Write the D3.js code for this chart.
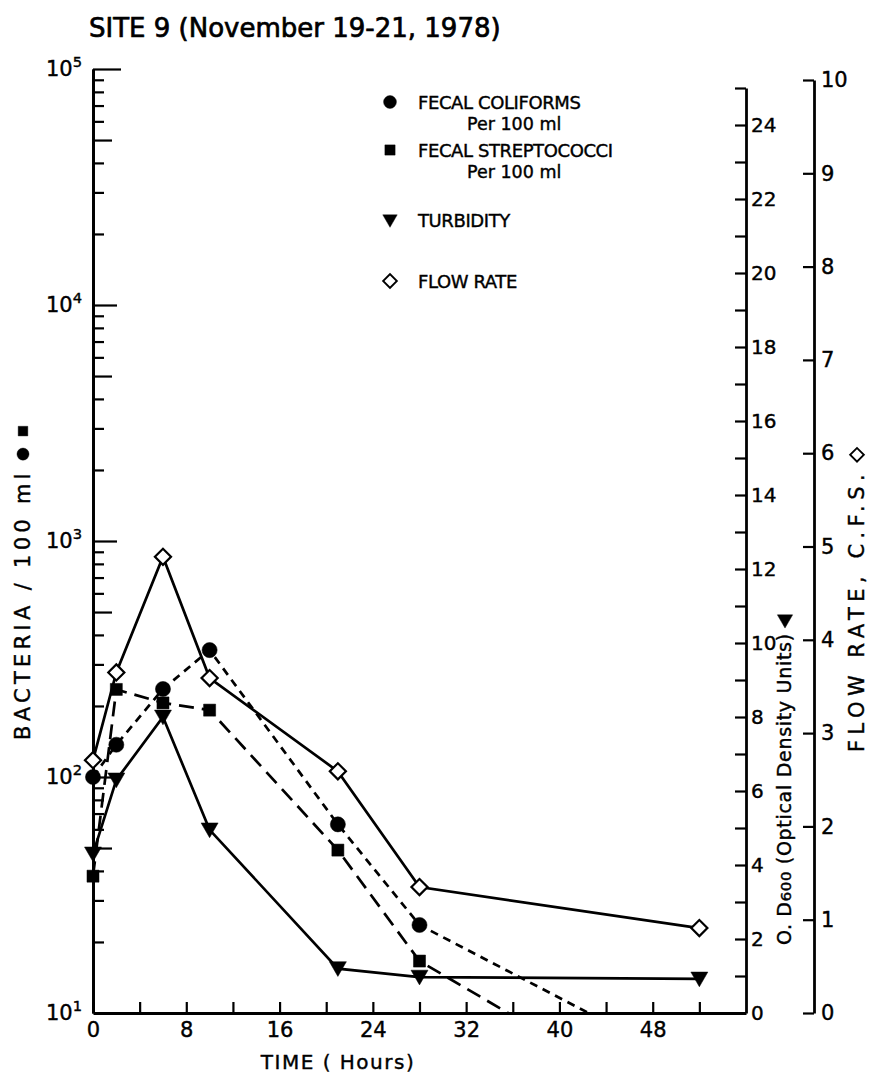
<!DOCTYPE html>
<html>
<head>
<meta charset="utf-8">
<script src="https://cdn.jsdelivr.net/npm/d3@7"></script>
<style>
body{margin:0;background:#fff;}
svg text{font-family:"DejaVu Sans",sans-serif;fill:#000;stroke:#000;stroke-width:0.4px;}
</style>
</head>
<body>
<svg id="chart" width="871" height="1076"></svg>
<script>
// sampling times (hours)
var hours = [0, 2, 6, 10, 21, 28, 52];
// bacteria per 100 ml (log axis), last sample below detection -> line runs to axis
var coliforms = [100, 137, 236, 345, 63, 23.6];
var coliformsEnd = [42.5, 10];
var strepto = [38, 235, 206, 192, 49, 16.6];
var streptoEnd = [35.6, 10];
// O.D600 and flow (c.f.s.)
var turbidity = [4.3, 6.3, 8.0, 4.95, 1.2, 0.97, 0.92];
var flowRate = [2.71, 3.65, 4.89, 3.59, 2.59, 1.35, 0.91];

var timeTicks = d3.range(0, 53, 4);
var timeLabels = [0, 8, 16, 24, 32, 40, 48];
var decades = [10, 100, 1000, 10000, 100000];
var odTicks = d3.range(0, 26);
var flowTicks = d3.range(0, 11);
var legendNames = ["FECAL COLIFORMS", "FECAL STREPTOCOCCI", "TURBIDITY", "FLOW RATE"];
var legendSub = ["Per 100 ml", "Per 100 ml", "", ""];

var svg = d3.select("#chart");

var x = d3.scaleLinear().domain([0, 56]).range([93, 746]);
var yBac = d3.scaleLog().domain([10, 1e5]).range([1013, 69]);
var yOD = d3.scaleLinear().domain([0, 25]).range([1013, 88]);
var yFlow = d3.scaleLinear().domain([0, 10]).range([1013, 80]);

function styleAxis(g, fs){
  g.attr("font-family", null).attr("font-size", fs);
  g.select(".domain").attr("stroke", "#000").attr("stroke-width", 2.8);
  g.selectAll(".tick line").attr("stroke", "#000").attr("stroke-width", 2.2);
}

// title
svg.append("text").attr("x", 89).attr("y", 37).attr("font-size", 26).style("stroke-width", "0.7px")
  .text("SITE 9 (November 19-21, 1978)");

// ---- left log axis
var minor = [];
decades.slice(0, 4).forEach(function(d){ for (var m = 2; m < 10; m++) minor.push(d * m); });

var gMinor = svg.append("g").attr("transform", "translate(93,0)")
  .call(d3.axisLeft(yBac).tickValues(minor).tickSizeInner(-11).tickSizeOuter(0).tickFormat(""));
styleAxis(gMinor, 18);
gMinor.selectAll(".tick line").attr("x2", function(d){
  var m = Math.round(d / Math.pow(10, Math.floor(Math.log10(d) + 1e-9)));
  return m == 5 ? 19 : 11;
});

var gMajor = svg.append("g").attr("transform", "translate(93,0)")
  .call(d3.axisLeft(yBac).tickValues(decades).tickSizeInner(-24).tickSizeOuter(0).tickPadding(11));
styleAxis(gMajor, 21);
gMajor.selectAll(".tick line").attr("x2", function(d){ return d == 10 ? 0 : (d == 1e5 ? 28 : 24); });
gMajor.selectAll(".tick text").each(function(d){
  var t = d3.select(this);
  t.text("10");
  t.append("tspan").attr("dy", "-0.6em").attr("font-size", "0.7em").text(Math.round(Math.log10(d)));
});

// ---- time axis
var gx = svg.append("g").attr("transform", "translate(0,1013)")
  .call(d3.axisBottom(x).tickValues(timeTicks).tickSizeInner(-11).tickSizeOuter(0).tickPadding(9)
    .tickFormat(function(d){ return timeLabels.indexOf(d) >= 0 ? d : ""; }));
styleAxis(gx, 21);

// ---- OD axis
var gOD = svg.append("g").attr("transform", "translate(746,0)")
  .call(d3.axisRight(yOD).tickValues(odTicks).tickSizeInner(-11).tickSizeOuter(0).tickPadding(5)
    .tickFormat(function(d){ return (d % 2 == 0 && d < 25) ? d : ""; }));
styleAxis(gOD, 20);

// ---- flow axis
var gFlow = svg.append("g").attr("transform", "translate(814,0)")
  .call(d3.axisRight(yFlow).tickValues(flowTicks).tickSizeInner(-11).tickSizeOuter(0).tickPadding(7));
styleAxis(gFlow, 21);

// ---- axis titles
svg.append("text").attr("x", 338).attr("y", 1069).attr("text-anchor", "middle").attr("font-size", 20)
  .attr("letter-spacing", 1.5).text("TIME ( Hours)");

var bacLbl = svg.append("text").attr("transform", "translate(30,740) rotate(-90)")
  .attr("font-size", 21).attr("letter-spacing", 4.3).text("BACTERIA / 100 ml");
var bacEnd = 740 - bacLbl.node().getComputedTextLength();

var odLbl = svg.append("text").attr("transform", "translate(791,945) rotate(-90)")
  .attr("font-size", 19).attr("letter-spacing", 0.7);
odLbl.append("tspan").text("O. D");
odLbl.append("tspan").attr("font-size", "0.78em").text("600");
odLbl.append("tspan").text(" (Optical Density Units)");
var odEnd = 945 - odLbl.node().getComputedTextLength();

var flowLbl = svg.append("text").attr("transform", "translate(864,752) rotate(-90)")
  .attr("font-size", 21).attr("letter-spacing", 5.5).text("FLOW RATE, C.F.S.");
var flowEnd = 752 - flowLbl.node().getComputedTextLength();

// ---- series
var sym = {
  circle: d3.symbol().type(d3.symbolCircle).size(180),
  square: d3.symbol().type(d3.symbolSquare).size(145),
  tri: d3.symbol().type(d3.symbolTriangle).size(125),
  diamond: d3.symbol().type(d3.symbolSquare).size(130)
};

function marker(g, kind, px, py, scale){
  var s = scale || 1;
  var p = g.append("path").attr("d", sym[kind]())
    .attr("fill", kind == "diamond" ? "#fff" : "#000")
    .attr("stroke", "#000").attr("stroke-width", kind == "diamond" ? 2.2 : 0.5);
  var rot = kind == "tri" ? 180 : (kind == "diamond" ? 45 : 0);
  p.attr("transform", "translate(" + px + "," + py + ") rotate(" + rot + ") scale(" + s + ")");
  return p;
}

var colPts = d3.zip(hours, coliforms);
var strPts = d3.zip(hours, strepto);
var turbPts = d3.zip(hours, turbidity);
var flowPts = d3.zip(hours, flowRate);

var lineBac = d3.line().x(function(d){ return x(d[0]); }).y(function(d){ return yBac(d[1]); });
var lineOD = d3.line().x(function(d){ return x(d[0]); }).y(function(d){ return yOD(d[1]); });
var lineFlow = d3.line().x(function(d){ return x(d[0]); }).y(function(d){ return yFlow(d[1]); });

var gl = svg.append("g").attr("fill", "none").attr("stroke", "#000").attr("stroke-width", 2.7);
gl.append("path").attr("d", lineFlow(flowPts));
gl.append("path").attr("d", lineOD(turbPts));
gl.append("path").attr("d", lineBac(colPts.concat([coliformsEnd]))).attr("stroke-dasharray", "8,6");
gl.append("path").attr("d", lineBac(strPts.concat([streptoEnd]))).attr("stroke-dasharray", "15,8");

var gm = svg.append("g");
strPts.forEach(function(d){ marker(gm, "square", x(d[0]), yBac(d[1])); });
colPts.forEach(function(d){ marker(gm, "circle", x(d[0]), yBac(d[1])); });
turbPts.forEach(function(d){ marker(gm, "tri", x(d[0]), yOD(d[1]) - 2); });
flowPts.forEach(function(d){ marker(gm, "diamond", x(d[0]), yFlow(d[1])); });

// symbols after the rotated axis titles
marker(svg, "circle", 23, bacEnd - 15, 0.8);
marker(svg, "square", 23, bacEnd - 38, 0.8);
marker(svg, "tri", 785, odEnd - 14, 0.9);
marker(svg, "diamond", 857, flowEnd - 14, 0.85);

// ---- legend
var legendKinds = ["circle", "square", "tri", "diamond"];
var legendY = [102, 150, 220, 281];
var lg = svg.append("g");
legendNames.forEach(function(name, i){
  marker(lg, legendKinds[i], 390, legendY[i] - (legendKinds[i] == "tri" ? 1 : 0), 0.85);
  lg.append("text").attr("x", 418).attr("y", legendY[i] + 7).attr("font-size", 18)
    .attr("letter-spacing", -0.4).text(name);
  if (legendSub[i]) lg.append("text").attr("x", 467).attr("y", legendY[i] + 28).attr("font-size", 17.5).text(legendSub[i]);
});
</script>
</body>
</html>
